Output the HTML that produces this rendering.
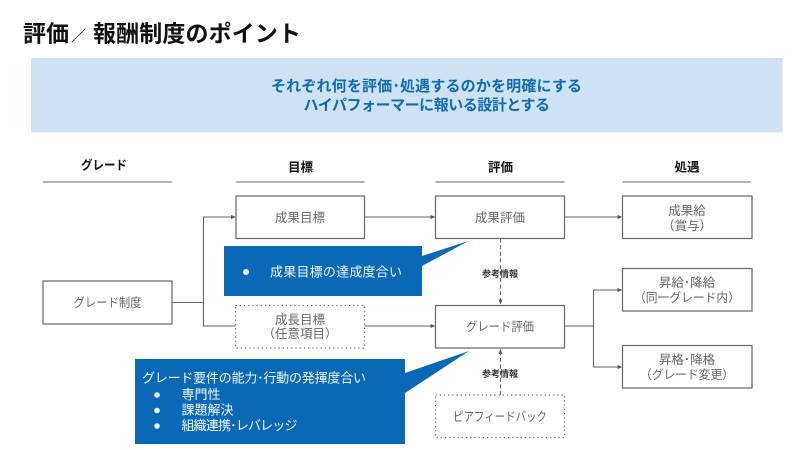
<!DOCTYPE html>
<html lang="ja">
<head>
<meta charset="utf-8">
<style>
html,body{margin:0;padding:0;background:#fff;width:800px;height:450px;overflow:hidden}
svg{display:block}
text{font-family:"Liberation Sans","Noto Sans CJK JP",sans-serif}
.n{font-size:12.5px;fill:#666;text-anchor:middle}
.h{font-size:12.5px;font-weight:700;fill:#111;text-anchor:middle}
.r{font-size:9px;font-weight:700;fill:#333;text-anchor:middle}
.w{font-size:13px;fill:#f2f7fc}
.b{font-size:15px;font-weight:700;fill:#0f6cb2}
.box{fill:#fff;stroke:#666;stroke-width:1.2}
.dot{fill:#fff;stroke:#666;stroke-width:1.2;stroke-dasharray:1.2 3}
.ln{fill:none;stroke:#666;stroke-width:1.1}
.hd{stroke:#888;stroke-width:1.2}
.ar{fill:#555}
</style>
</head>
<body>
<svg width="800" height="450" viewBox="0 0 800 450" xmlns="http://www.w3.org/2000/svg">
<rect width="800" height="450" fill="#fff"/>
<text x="23" y="41.5" font-size="23" font-weight="700" fill="#111" textLength="46" lengthAdjust="spacing">評価</text>
<text x="71" y="41" font-size="15" font-weight="700" fill="#222">／</text>
<text x="93" y="41.5" font-size="23" font-weight="700" fill="#111" textLength="208" lengthAdjust="spacing">報酬制度のポイント</text>

<rect x="31" y="58" width="751.5" height="74.5" fill="#cfe2f3"/>
<text class="b" x="271" y="91" textLength="311" lengthAdjust="spacing">それぞれ何を評価･処遇するのかを明確にする</text>
<text class="b" x="303.5" y="110" textLength="246.5" lengthAdjust="spacing">ハイパフォーマーに報いる設計とする</text>

<text class="h" x="104" y="169.5" textLength="46" lengthAdjust="spacingAndGlyphs">グレード</text>
<text class="h" x="300.5" y="171.5">目標</text>
<text class="h" x="500.5" y="171.5">評価</text>
<text class="h" x="687" y="171.5">処遇</text>
<line class="hd" x1="43" y1="182" x2="172" y2="182"/>
<line class="hd" x1="236" y1="182" x2="364.5" y2="182"/>
<line class="hd" x1="435.5" y1="182" x2="564.5" y2="182"/>
<line class="hd" x1="622.5" y1="182" x2="751" y2="182"/>

<!-- connectors -->
<path class="ln" d="M172 302.5H203.5M236 217H203.5V326H236"/>
<path class="ln" d="M364.5 217H431M364.5 326H431M564.5 217H618"/>
<path class="ln" d="M564.5 326H593.5M618 290H593.5V367H618"/>
<path class="ln" stroke-dasharray="4 2.6" d="M500.5 238.5V301"/>
<path class="ln" stroke-dasharray="4 2.6" d="M500.5 395V354"/>
<g class="ar">
<path d="M236 217l-5-2v4z"/>
<path d="M435.5 217l-5-2v4z"/>
<path d="M435.5 326l-5-2v4z"/>
<path d="M622.5 217l-5-2v4z"/>
<path d="M622.5 290l-5-2v4z"/>
<path d="M622.5 367l-5-2v4z"/>
<path d="M500.5 304.5l-2-5h4z"/>
<path d="M500.5 349l-2 5h4z"/>
</g>

<!-- boxes -->
<rect class="box" x="236" y="196" width="128.5" height="42.5"/>
<rect class="box" x="435.5" y="196" width="129" height="42.5"/>
<rect class="box" x="622.5" y="196" width="129.5" height="42.5"/>
<rect class="box" x="43" y="281" width="129" height="43"/>
<rect class="dot" x="235.5" y="305.5" width="129" height="42.5"/>
<rect class="box" x="435.5" y="305.5" width="129" height="42.5"/>
<rect class="dot" x="435.5" y="395" width="129" height="42.5"/>
<rect class="box" x="622.5" y="268.5" width="129.5" height="42.5"/>
<rect class="box" x="622.5" y="345.5" width="129.5" height="42.5"/>

<text class="n" x="300" y="222">成果目標</text>
<text class="n" x="500" y="222">成果評価</text>
<text class="n" x="687" y="215">成果給</text>
<text class="n" x="687" y="230">（賞与）</text>
<text class="n" x="107.5" y="307" textLength="68" lengthAdjust="spacingAndGlyphs">グレード制度</text>
<text class="n" x="300" y="324">成長目標</text>
<text class="n" x="300" y="338">（任意項目）</text>
<text class="n" x="500" y="331" textLength="68" lengthAdjust="spacingAndGlyphs">グレード評価</text>
<text class="n" x="500" y="421" textLength="94" lengthAdjust="spacingAndGlyphs">ピアフィードバック</text>
<text class="n" x="687" y="287">昇給･降給</text>
<text class="n" x="687" y="302" textLength="106" lengthAdjust="spacingAndGlyphs">（同一グレード内）</text>
<text class="n" x="687" y="364">昇格･降格</text>
<text class="n" x="687" y="379" textLength="94" lengthAdjust="spacingAndGlyphs">（グレード変更）</text>

<text class="r" x="500" y="277">参考情報</text>
<text class="r" x="500" y="377">参考情報</text>

<!-- callouts -->
<path d="M224 246H422V256L468.5 241L422 266V296H224Z" fill="#0a69b7"/>
<circle cx="246" cy="272" r="3" fill="#f2f7fc"/>
<text class="w" x="270" y="276.5" textLength="132" lengthAdjust="spacing">成果目標の達成度合い</text>

<path d="M135 359H405V373L469 351L405 393V444H135Z" fill="#0a69b7"/>
<text class="w" x="142" y="382.5" textLength="224" lengthAdjust="spacing">グレード要件の能力･行動の発揮度合い</text>
<circle cx="157" cy="395" r="2.8" fill="#f2f7fc"/>
<text class="w" x="181.5" y="399" textLength="39" lengthAdjust="spacing">専門性</text>
<circle cx="157" cy="410.5" r="2.8" fill="#f2f7fc"/>
<text class="w" x="181.5" y="414.5" textLength="52" lengthAdjust="spacing">課題解決</text>
<circle cx="157" cy="426" r="2.8" fill="#f2f7fc"/>
<text class="w" x="181.5" y="430" textLength="116" lengthAdjust="spacing">組織連携･レバレッジ</text>
</svg>
</body>
</html>
